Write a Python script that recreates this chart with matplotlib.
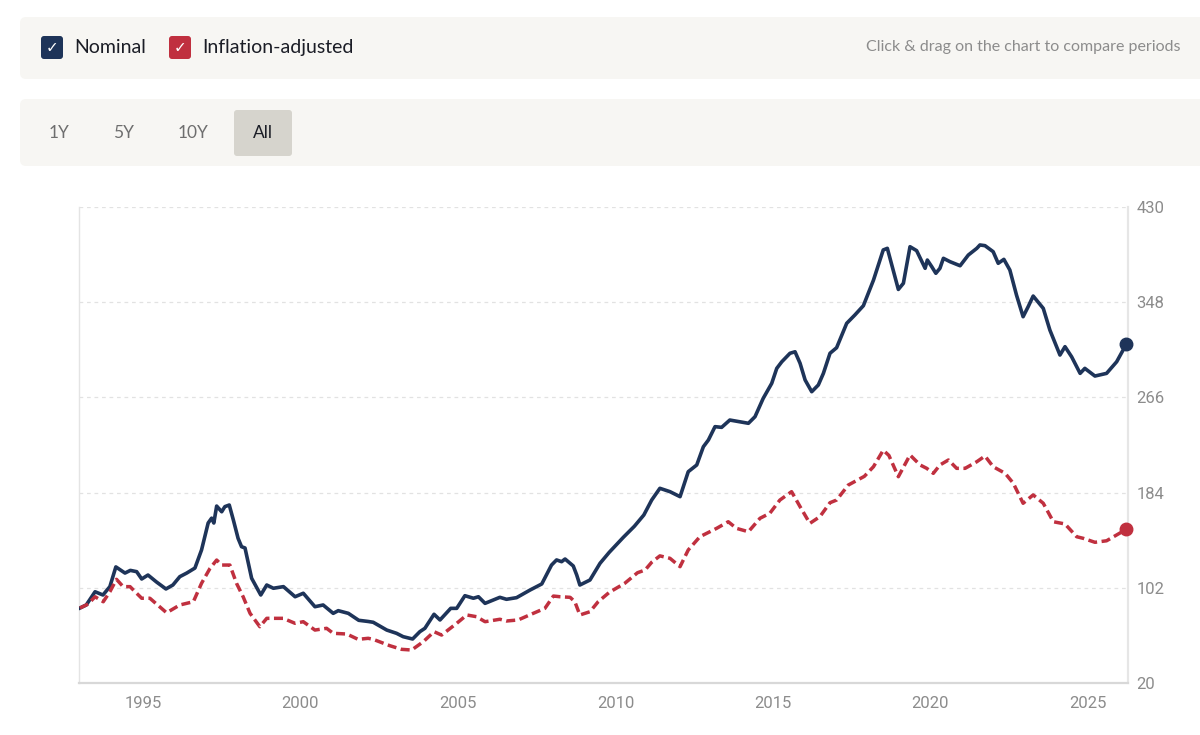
import matplotlib
matplotlib.use("Agg")
import matplotlib.pyplot as plt
from matplotlib.patches import FancyBboxPatch

# valores (año, indice)
anios_nom = [1993.00, 1993.20, 1993.48, 1993.73, 1993.95, 1994.14, 1994.43, 1994.60, 1994.80, 1994.96,
             1995.16, 1995.43, 1995.73, 1995.95, 1996.17, 1996.39, 1996.65, 1996.86, 1997.07, 1997.18,
             1997.25, 1997.34, 1997.50, 1997.60, 1997.74, 1997.87, 1998.02, 1998.13, 1998.24, 1998.45,
             1998.74, 1998.93, 1999.14, 1999.46, 1999.83, 2000.09, 2000.46, 2000.72, 2001.04, 2001.20,
             2001.52, 2001.85, 2002.15, 2002.31, 2002.74, 2003.05, 2003.26, 2003.56, 2003.79, 2003.95,
             2004.24, 2004.43, 2004.77, 2004.96, 2005.22, 2005.49, 2005.65, 2005.86, 2006.33, 2006.54,
             2006.86, 2007.29, 2007.66, 2007.97, 2008.13, 2008.29, 2008.40, 2008.66, 2008.77, 2008.87,
             2009.19, 2009.51, 2009.80, 2010.25, 2010.60, 2010.90, 2011.15, 2011.41, 2011.73, 2012.05,
             2012.31, 2012.58, 2012.79, 2012.95, 2013.16, 2013.37, 2013.63, 2014.22, 2014.43, 2014.69,
             2014.96, 2015.12, 2015.28, 2015.54, 2015.70, 2015.86, 2016.02, 2016.23, 2016.44, 2016.60,
             2016.81, 2017.02, 2017.34, 2017.60, 2017.87, 2018.19, 2018.50, 2018.63, 2018.98, 2019.14,
             2019.35, 2019.56, 2019.83, 2019.90, 2020.04, 2020.17, 2020.30, 2020.41, 2020.62, 2020.94,
             2021.20, 2021.47, 2021.57, 2021.73, 2021.99, 2022.15, 2022.33, 2022.52, 2022.73, 2022.94,
             2023.10, 2023.26, 2023.58, 2023.79, 2024.11, 2024.27, 2024.48, 2024.75, 2024.90, 2025.22,
             2025.59, 2025.91, 2026.22]
nominal = [84.6, 87.2, 98.6, 95.8, 103, 120, 114.7, 117, 115.9, 109.6,
           113, 107, 101, 104.4, 111.6, 114.7, 119, 134.6, 157.8, 162,
           157.8, 172.4, 167.5, 171.9, 173.3, 160.4, 144.6, 137.4, 136.3, 110.2,
           95.8, 104.4, 101.6, 103, 94.3, 97.3, 85.7, 87.2, 80, 82.3,
           80, 74, 73, 72.3, 65.6, 62.8, 59.9, 57.9, 64.2, 67.1,
           79.2, 74.3, 84.3, 84.3, 95.2, 93, 94.3, 88.6, 93.8, 92.1,
           93.5, 100.1, 105.3, 121.6, 126, 124.5, 126.8, 120.8, 113, 104.4,
           108.7, 123.1, 132.5, 145.5, 155, 164.7, 177.6, 187.7, 184.8, 180.5,
           202, 207.8, 223.5, 229.3, 240.8, 240.2, 246.5, 243.7, 249.4, 265.2,
           278.1, 291, 296.7, 304, 305.3, 295.4, 281, 270.9, 276.7, 286.7,
           304, 308.8, 329.8, 337, 345, 367, 393, 394.4, 359, 364.3,
           395.8, 392.4, 377.2, 384.3, 378.6, 372.9, 377.2, 385.8, 382.9, 379.4,
           388.6, 394.4, 397.3, 396.7, 391.5, 381.5, 384.9, 375.7, 354.2, 335.5,
           344.1, 353.3, 342.7, 324, 302.5, 309.7, 301, 286.7, 291, 284.4,
           286.7, 296.7, 312]

anios_real = [1993.00, 1993.26, 1993.48, 1993.74, 1993.95, 1994.16, 1994.37, 1994.59, 1994.80, 1994.96,
              1995.22, 1995.75, 1996.17, 1996.60, 1996.86, 1997.13, 1997.34, 1997.50, 1997.76, 1997.97,
              1998.18, 1998.40, 1998.71, 1998.93, 1999.45, 1999.83, 2000.09, 2000.46, 2000.83, 2001.04,
              2001.47, 2001.83, 2002.15, 2002.31, 2002.84, 2003.21, 2003.53, 2003.90, 2004.24, 2004.48,
              2004.96, 2005.28, 2005.59, 2005.86, 2006.33, 2006.54, 2006.91, 2007.39, 2007.76, 2008.03,
              2008.24, 2008.56, 2008.71, 2008.87, 2009.19, 2009.45, 2009.80, 2010.30, 2010.70, 2010.94,
              2011.15, 2011.41, 2011.73, 2012.05, 2012.31, 2012.68, 2013.21, 2013.58, 2013.84, 2014.22,
              2014.59, 2014.90, 2015.22, 2015.59, 2015.86, 2016.17, 2016.49, 2016.81, 2017.02, 2017.39,
              2017.90, 2018.19, 2018.50, 2018.68, 2018.98, 2019.35, 2019.67, 2019.88, 2020.09, 2020.30,
              2020.57, 2020.83, 2021.10, 2021.47, 2021.73, 2021.99, 2022.37, 2022.63, 2022.94, 2023.26,
              2023.58, 2023.90, 2024.27, 2024.64, 2024.85, 2025.22, 2025.59, 2026.22]
ajustado = [84.6, 88, 94.3, 90, 98.6, 109.3, 103, 103, 97.3, 93,
            93, 80.5, 87.2, 90, 105.9, 118.8, 125.9, 121.6, 121.6, 105.9,
            94.3, 80, 68.5, 75.7, 75.7, 71.4, 72.8, 65.6, 67.1, 62.8,
            62.2, 57.6, 58.5, 57.6, 52.1, 49, 48.4, 55.6, 64.2, 61.3,
            71.4, 78.6, 77.1, 72.8, 74.9, 73.4, 74.3, 80, 84.3, 94.9,
            94.3, 93.8, 90, 78.6, 81.4, 90, 98, 106, 115, 117.3,
            124, 129.5, 127.4, 120.2, 134.6, 146, 153.2, 158.9, 153.2, 150.3,
            161.9, 166.2, 177.6, 184.8, 171.9, 157.5, 163.3, 175.3, 177.6, 190.5,
            198, 206.3, 220.5, 216, 197.7, 216.4, 207.8, 204.9, 200.6, 207.8,
            212.1, 204.9, 204.9, 210.6, 215.5, 206.3, 200.6, 192, 174.8, 182,
            174.8, 158.9, 157, 146, 144.6, 141.2, 142.5, 152.4]

ticks_y = [20, 102, 184, 266, 348, 430]
ticks_x = [1995, 2000, 2005, 2010, 2015, 2020, 2025]
periodos = ['1Y', '5Y', '10Y', 'All']

azul = '#1e3459'
rojo = '#c0303f'
gris_txt = '#8c8c8c'
fuente = ['Lato', 'DejaVu Sans']

W, H = 1200, 735
fig = plt.figure(figsize=(W / 100, H / 100), dpi=100)
fig.patch.set_facecolor('white')

# capa de interfaz en pixeles
ui = fig.add_axes([0, 0, 1, 1])
ui.set_xlim(0, W)
ui.set_ylim(H, 0)
ui.set_axis_off()

def caja(x0, y0, x1, y1, color, r=6):
    ui.add_patch(FancyBboxPatch((x0 + r, y0 + r), x1 - x0 - 2 * r, y1 - y0 - 2 * r,
                                boxstyle=f"round,pad={r}", fc=color, ec='none'))

caja(20, 17, 1206, 79, '#f7f6f3')
caja(20, 99, 1206, 166, '#f7f6f3')

# casillas de la leyenda
for x0, col, txt, tx in [(41, azul, 'Nominal', 74), (169, rojo, 'Inflation-adjusted', 202)]:
    caja(x0, 36, x0 + 22, 59, col, r=3)
    ui.text(x0 + 11, 48, '\u2713', color='white', fontsize=11, ha='center', va='center',
            family='DejaVu Sans')
    ui.text(tx, 47, txt, color='#1b1d26', fontsize=14, ha='left', va='center', family=fuente)

ui.text(1180, 47, 'Click & drag on the chart to compare periods', color=gris_txt,
        fontsize=11.5, ha='right', va='center', family=fuente)

# selector de periodo
caja(234, 110, 292, 156, '#d6d4cd', r=3)
for px, p in zip([59, 124, 193, 263], periodos):
    ui.text(px, 133, p, fontsize=12.5, ha='center', va='center', family=fuente,
            color='#1b1d26' if p == 'All' else '#6e6e6e')

# grafico principal
ax = fig.add_axes([79 / W, 1 - 683 / H, (1128 - 79) / W, (683 - 207) / H])
ax.set_facecolor('none')
ax.plot(anios_nom, nominal, color=azul, lw=2.6, solid_joinstyle='round', zorder=3)
ax.plot(anios_real, ajustado, color=rojo, lw=2.5, linestyle=(0, (2.6, 1.3)), zorder=3)
ax.plot(anios_nom[-1], nominal[-1], 'o', color=azul, ms=9, clip_on=False, zorder=4)
ax.plot(anios_real[-1], ajustado[-1], 'o', color=rojo, ms=9, clip_on=False, zorder=4)

ax.set_xlim(1992.97, 2026.27)
ax.set_ylim(20, 430)
ax.set_yticks(ticks_y)
ax.set_xticks(ticks_x)
ax.yaxis.tick_right()
ax.tick_params(length=0, colors=gris_txt, labelsize=12)
ax.tick_params(axis='y', pad=6)
ax.tick_params(axis='x', pad=9)
for lab in ax.get_xticklabels() + ax.get_yticklabels():
    lab.set_family(['Roboto', 'DejaVu Sans'])

for v in ticks_y[1:]:
    ax.axhline(v, color='#e2e2e2', lw=0.9, linestyle=(0, (3, 3)), zorder=1)

ax.spines['top'].set_visible(False)
ax.spines['left'].set_color('#e4e4e4')
ax.spines['left'].set_linewidth(1)
ax.spines['right'].set_color('#e6e6e6')
ax.spines['right'].set_linewidth(1.6)
ax.spines['bottom'].set_color('#d8d8d8')
ax.spines['bottom'].set_linewidth(1.6)

plt.savefig('out.png', dpi=100)
